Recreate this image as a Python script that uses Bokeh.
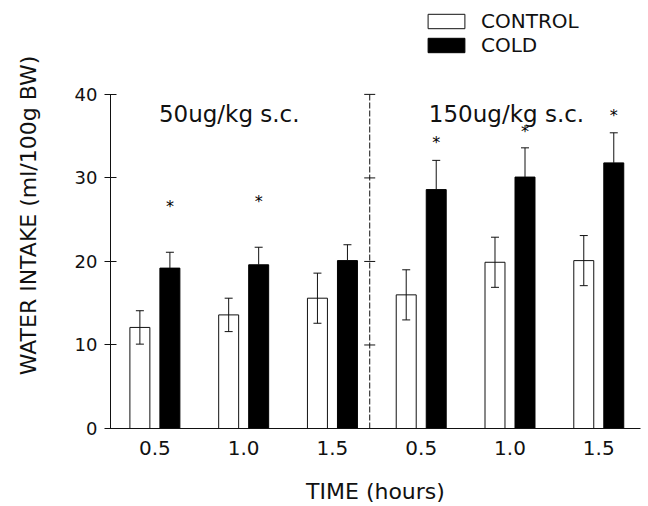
from bokeh.plotting import figure
from bokeh.models import (ColumnDataSource, Range1d, FixedTicker, Whisker,
                          TeeHead, Legend, LegendItem)
from bokeh.core.properties import value
from bokeh.embed import file_html
from bokeh.resources import INLINE

# ---------------- data ----------------
TIME_LABELS = ["0.5", "1.0", "1.5", "0.5", "1.0", "1.5"]
DOSE_LABELS = ["50ug/kg s.c.", "150ug/kg s.c."]
SERIES = ["CONTROL", "COLD"]
CONTROL = [12.1, 13.6, 15.6, 16.0, 19.9, 20.1]
CONTROL_ERR = [2.0, 2.0, 3.0, 3.0, 3.0, 3.0]
COLD = [19.2, 19.6, 20.1, 28.6, 30.1, 31.8]
COLD_ERR = [1.9, 2.1, 1.9, 3.5, 3.5, 3.6]
STAR_Y = [26.6, 27.2, None, 34.25, 35.6, 37.5]
Y_TICKS = [0, 10, 20, 30, 40]

# ---------------- layout constants ----------------
FONT = "DejaVu Sans"
INK = "#111111"
OFFSET = 0.169
BAR_W = 0.225
DIVIDER_X = 2.42
DOSE_X = [0.045, 3.086]
DOSE_Y = 37.7

groups = list(range(len(TIME_LABELS)))
ctrl_x = [g - OFFSET for g in groups]
cold_x = [g + OFFSET for g in groups]

p = figure(width=648, height=506,
           x_range=Range1d(-0.5, 5.47), y_range=Range1d(0, 51),
           output_backend="svg", toolbar_location=None,
           min_border_left=110, min_border_right=8,
           min_border_top=2, min_border_bottom=78)
p.outline_line_color = None
p.grid.visible = False
p.background_fill_color = "white"
p.border_fill_color = "white"

ctrl_src = ColumnDataSource(dict(
    x=ctrl_x, top=CONTROL,
    upper=[v + e for v, e in zip(CONTROL, CONTROL_ERR)],
    lower=[v - e for v, e in zip(CONTROL, CONTROL_ERR)]))
cold_src = ColumnDataSource(dict(
    x=cold_x, top=COLD,
    upper=[v + e for v, e in zip(COLD, COLD_ERR)],
    lower=COLD))

r_ctrl = p.vbar(x="x", top="top", width=BAR_W, source=ctrl_src,
                fill_color="white", line_color=INK, line_width=1)
r_cold = p.vbar(x="x", top="top", width=BAR_W, source=cold_src,
                fill_color="black", line_color="black", line_width=1)

p.add_layout(Whisker(source=ctrl_src, base="x", upper="upper", lower="lower",
                     line_color=INK, line_width=1, level="overlay",
                     upper_head=TeeHead(size=8, line_color=INK),
                     lower_head=TeeHead(size=8, line_color=INK)))
p.add_layout(Whisker(source=cold_src, base="x", upper="upper", lower="lower",
                     line_color=INK, line_width=1, level="overlay",
                     upper_head=TeeHead(size=8, line_color=INK),
                     lower_head=None))

# significance asterisks
sx = [x for x, s in zip(cold_x, STAR_Y) if s is not None]
sy = [s for s in STAR_Y if s is not None]
p.text(x=sx, y=sy, text=["*"] * len(sx), text_font=value(FONT),
       text_font_size="16px", text_align="center", text_baseline="middle",
       text_color="black")

# dose annotations
p.text(x=DOSE_X, y=[DOSE_Y] * len(DOSE_X), text=DOSE_LABELS,
       text_font=value(FONT), text_font_size="23px",
       text_align="left", text_baseline="alphabetic", text_color=INK)

# middle dashed axis
p.segment(x0=[DIVIDER_X], y0=[Y_TICKS[0]], x1=[DIVIDER_X], y1=[Y_TICKS[-1]],
          line_color=INK, line_width=1, line_dash="6 2")
p.scatter(x=[DIVIDER_X] * (len(Y_TICKS) - 1), y=Y_TICKS[1:], marker="dash",
          size=11, line_color=INK, line_width=1)

# axes
ya = p.yaxis[0]
ya.ticker = FixedTicker(ticks=Y_TICKS)
ya.bounds = (Y_TICKS[0], Y_TICKS[-1])
ya.major_tick_in = 6
ya.major_tick_out = 6
ya.minor_tick_line_color = None
ya.axis_line_color = INK
ya.major_tick_line_color = INK
ya.major_label_text_font = FONT
ya.major_label_text_font_size = "18px"
ya.major_label_text_color = INK
ya.major_label_standoff = 7
ya.axis_label = "WATER INTAKE (ml/100g BW)"
ya.axis_label_text_font = FONT
ya.axis_label_text_font_size = "22px"
ya.axis_label_text_font_style = "normal"
ya.axis_label_text_color = INK
ya.axis_label_standoff = 31

xa = p.xaxis[0]
xa.ticker = FixedTicker(ticks=groups)
xa.major_label_overrides = {g: lab for g, lab in zip(groups, TIME_LABELS)}
xa.major_tick_in = 0
xa.major_tick_out = 0
xa.minor_tick_line_color = None
xa.major_tick_line_color = None
xa.axis_line_color = INK
xa.major_label_text_font = FONT
xa.major_label_text_font_size = "20px"
xa.major_label_text_color = INK
xa.major_label_standoff = 12
xa.axis_label = "TIME (hours)"
xa.axis_label_text_font = FONT
xa.axis_label_text_font_size = "22px"
xa.axis_label_text_font_style = "normal"
xa.axis_label_text_color = INK
xa.axis_label_standoff = 21

legend = Legend(items=[LegendItem(label=SERIES[0], renderers=[r_ctrl]),
                       LegendItem(label=SERIES[1], renderers=[r_cold])],
                location=(313, 371), orientation="vertical",
                border_line_color=None, background_fill_alpha=0,
                padding=0, margin=0, spacing=0,
                glyph_width=46, glyph_height=18, label_standoff=12,
                label_text_font=FONT, label_text_font_size="20px",
                label_text_color=INK)
p.add_layout(legend)

open("out.html", "w").write(file_html(p, INLINE))
